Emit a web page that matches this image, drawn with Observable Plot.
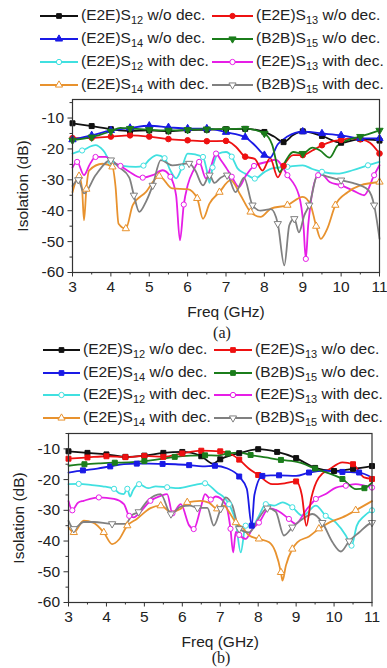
<!DOCTYPE html>
<html><head><meta charset="utf-8">
<script src="https://cdn.jsdelivr.net/npm/d3@7"></script>
<script src="https://cdn.jsdelivr.net/npm/@observablehq/plot@0.6"></script>
<style>
body{margin:0;background:#fff;font-family:"Liberation Sans",Arial,sans-serif;}
#wrap{position:relative;width:387px;height:668px;overflow:hidden;background:#fff;}
.panel{position:absolute;left:0;}
.legtxt{position:absolute;font-size:15.5px;color:#222;white-space:nowrap;line-height:18px;height:18px;}
.legtxt sub{font-size:11px;vertical-align:-4px;line-height:0;}
.legsym{position:absolute;}
.cap{position:absolute;font-family:"Liberation Serif","Times New Roman",serif;font-size:16px;color:#222;transform:translateX(-50%);line-height:18px;}
</style></head><body><div id="wrap"></div>
<script>
// ---------- axis ticks ----------
const xTicks = [3, 4, 5, 6, 7, 8, 9, 10, 11];
const xMinor = [3.5, 4.5, 5.5, 6.5, 7.5, 8.5, 9.5, 10.5];
const yTicks = [-60, -50, -40, -30, -20, -10];
const yMinor = [-55, -45, -35, -25, -15, -5];

// ---------- legend labels ----------
const labelPre = ["(E2E)S", "(E2E)S", "(E2E)S", "(B2B)S", "(E2E)S", "(E2E)S", "(E2E)S", "(B2B)S"];
const labelSub = ["12", "13", "14", "15", "12", "13", "14", "15"];
const labelPost = [" w/o dec.", " w/o dec.", " w/o dec.", " w/o dec.", " with dec.", " with dec.", " with dec.", " with dec."];
const captions = ["(a)", "(b)"];

// ---------- panel (a) data: [freq GHz, isolation dB] ----------
const a_S12_wo = [[3.0,-11.7],[3.5,-12.6],[4.0,-13.6],[4.5,-14.2],[5.0,-14.0],[5.5,-14.3],[6.0,-13.9],[6.5,-13.8],[7.0,-13.6],[7.5,-13.5],[8.0,-14.5],[8.25,-16],[8.5,-17.8],[8.75,-15.5],[9.0,-14.3],[9.5,-15.8],[10.0,-18.0],[10.5,-16.8],[11.0,-17.3]];
const a_S13_wo = [[3.0,-16.5],[3.5,-16.4],[4.0,-16.0],[4.5,-15.6],[5.0,-16.0],[5.5,-16.8],[6.0,-17.2],[6.5,-17.5],[7.0,-17.4],[7.25,-19.2],[7.5,-22.5],[7.75,-23.2],[7.95,-27],[8.15,-23],[8.35,-29.2],[8.5,-25.5],[8.75,-22],[9.0,-22],[9.25,-20.5],[9.5,-18.8],[9.75,-17.6],[10.0,-17.1],[10.25,-16.6],[10.5,-16.9],[10.75,-18],[11.0,-21.5]];
const a_S14_wo = [[3.0,-17.0],[3.5,-15.6],[4.0,-14.0],[4.5,-13.2],[5.0,-12.5],[5.5,-13.0],[6.0,-13.4],[6.5,-13.4],[7.0,-14.6],[7.5,-16.2],[7.75,-18.8],[8.0,-22],[8.15,-22.8],[8.35,-18.5],[8.6,-16],[9.0,-14.4],[9.5,-15.0],[10.0,-15.6],[10.5,-16.6],[11.0,-16.6]];
const a_S15_wo = [[3.0,-17.2],[3.5,-16.2],[4.0,-14.3],[4.25,-13.2],[4.5,-13.4],[5.0,-13.8],[5.5,-14.0],[6.0,-13.8],[6.5,-13.6],[7.0,-13.6],[7.5,-13.4],[8.0,-15.0],[8.2,-18.5],[8.4,-27.5],[8.55,-24],[8.75,-21],[9.0,-21.5],[9.25,-19.6],[9.45,-20.5],[9.7,-22.8],[9.9,-19],[10.2,-17],[10.5,-16.0],[11.0,-14.0]];
const a_S12_with = [[3.0,-21.5],[3.25,-20.5],[3.6,-18.8],[3.8,-20.5],[4.0,-24.2],[4.3,-25.5],[4.65,-25.8],[4.85,-25.4],[5.0,-23.5],[5.2,-22],[5.4,-23],[5.55,-27],[5.7,-29.5],[5.85,-26],[6.0,-21.5],[6.2,-21.8],[6.4,-22.6],[6.5,-27],[6.57,-31],[6.65,-26],[6.8,-21.5],[7.0,-21.0],[7.15,-22.5],[7.3,-26.3],[7.5,-28],[7.75,-29.6],[8.0,-27.5],[8.2,-26.3],[8.6,-25.8],[9.0,-25.3],[9.25,-26.5],[9.5,-27.4],[9.9,-28],[10.3,-26.9],[10.7,-25.3],[11.0,-24.2]];
const a_S13_with = [[3.0,-26],[3.12,-24.2],[3.3,-28.5],[3.45,-25],[3.6,-22.6],[3.87,-22.6],[4.04,-24.2],[4.25,-25.5],[4.48,-27.4],[4.7,-29],[4.83,-29.3],[5.09,-28.5],[5.35,-26.9],[5.55,-29],[5.7,-35],[5.8,-49.6],[5.9,-38],[6.0,-31.8],[6.15,-27],[6.3,-24.2],[6.48,-29.6],[6.6,-26],[6.74,-21.5],[6.86,-23.5],[7.0,-26],[7.15,-29],[7.34,-32.3],[7.5,-29],[7.73,-25.5],[8.07,-24.2],[8.3,-23.5],[8.6,-28.5],[8.9,-35],[9.02,-45],[9.08,-55.6],[9.14,-45],[9.2,-38.2],[9.4,-28.5],[9.5,-28.3],[9.7,-30.7],[10.0,-31.8],[10.3,-33.4],[10.6,-35],[10.86,-28.5],[11.0,-25.3]];
const a_S14_with = [[3.0,-34],[3.17,-28.8],[3.25,-33],[3.3,-43.1],[3.36,-33],[3.43,-27],[3.78,-24.8],[4.04,-25.8],[4.12,-32],[4.2,-44.2],[4.39,-45.8],[4.57,-38.2],[4.91,-34],[5.26,-28.8],[5.6,-32.8],[6.0,-33],[6.25,-36],[6.4,-42.6],[6.57,-37.7],[6.83,-34],[7.12,-30.1],[7.38,-35],[7.64,-40.4],[7.9,-42],[8.17,-39.3],[8.6,-38.2],[9.0,-35.5],[9.2,-38],[9.35,-45],[9.47,-49.1],[9.64,-45.8],[9.85,-38.2],[10.17,-34],[10.5,-31.8],[11.0,-30.7]];
const a_S15_with = [[3.0,-32],[3.15,-30],[3.3,-34.4],[3.6,-28.5],[4.0,-23.6],[4.2,-25.8],[4.48,-29.3],[4.6,-35],[4.74,-40.4],[4.91,-37.2],[5.09,-31.8],[5.3,-23.6],[5.6,-25.3],[6.04,-24.7],[6.2,-27],[6.4,-31.8],[6.57,-28.5],[6.7,-31],[6.86,-29.3],[7.03,-28.5],[7.25,-34],[7.47,-29.3],[7.69,-38.2],[7.9,-40],[8.17,-39.5],[8.35,-44.2],[8.52,-57.7],[8.65,-44.7],[8.78,-42.6],[8.9,-47],[9.04,-41.5],[9.17,-38.2],[9.4,-28],[9.64,-29],[10.0,-30.1],[10.3,-31],[10.7,-33.2],[10.86,-38.2],[11.0,-49.1]];

// ---------- panel (b) data ----------
const b_S12_wo = [[3.0,-10.8],[3.5,-11.3],[4.0,-11.8],[4.5,-12.6],[5.0,-12.2],[5.5,-11.3],[6.0,-11.0],[6.5,-12.4],[6.8,-14.8],[7.0,-13.4],[7.25,-12.2],[7.5,-11.4],[8.0,-10.1],[8.5,-11.0],[9.0,-13.0],[9.5,-16.2],[10.0,-17.2],[10.5,-16.5],[11.0,-15.6]];
const b_S13_wo = [[3.0,-13.2],[3.5,-12.8],[4.0,-12.4],[4.5,-12.7],[5.0,-12.3],[5.5,-12.6],[6.0,-11.5],[6.5,-10.6],[7.0,-10.8],[7.25,-11.5],[7.5,-13.5],[7.75,-16.4],[8.0,-18.5],[8.37,-21.5],[8.7,-21.2],[9.0,-20.6],[9.15,-25],[9.27,-35],[9.4,-26],[9.6,-19.3],[9.9,-16.5],[10.22,-14.4],[10.5,-15],[10.79,-19.3],[11.0,-19.8]];
const b_S14_wo = [[3.0,-17.7],[3.38,-17],[3.76,-16.4],[4.1,-15.7],[4.46,-15],[4.8,-14.8],[5.14,-14.8],[5.48,-14.9],[5.82,-15],[6.18,-15.3],[6.53,-15.7],[6.86,-15.5],[7.19,-16.4],[7.5,-19],[7.7,-23],[7.83,-35],[7.9,-25],[8.11,-18.8],[8.33,-18.6],[8.55,-18.6],[9.0,-18.8],[9.34,-17.7],[9.78,-17.1],[10.22,-17.5],[10.44,-17.6],[10.66,-17.7],[11.0,-19.3]];
const b_S15_wo = [[3.0,-15.5],[3.42,-15],[3.84,-14.7],[4.22,-14.5],[4.6,-14.4],[5.0,-14],[5.43,-13.3],[5.8,-12.6],[6.22,-12.2],[6.6,-12.1],[6.92,-12.2],[7.2,-11.5],[7.5,-11.2],[7.8,-12],[8.2,-12.8],[8.6,-13.6],[9.08,-14.4],[9.5,-16.4],[9.85,-17.9],[10.22,-19.8],[10.58,-23.1],[10.8,-22.8],[11.0,-21]];
const b_S12_with = [[3.0,-21.5],[3.27,-21.4],[3.62,-21.8],[3.9,-22.2],[4.2,-23],[4.35,-24.5],[4.46,-24.7],[4.55,-23],[4.62,-25.5],[4.7,-23.5],[4.86,-21.5],[5.1,-22.8],[5.3,-22.2],[5.6,-22.5],[5.9,-22.8],[6.3,-21.8],[6.6,-21.2],[6.92,-24.2],[7.1,-25.8],[7.23,-28],[7.41,-34],[7.54,-43.7],[7.67,-35],[7.85,-35],[8.02,-31.8],[8.2,-28],[8.42,-28.5],[8.64,-27.4],[8.9,-29],[9.17,-31.8],[9.52,-28.5],[9.78,-31.8],[10.05,-34],[10.31,-38.2],[10.46,-41.5],[10.6,-35],[10.8,-31.8],[11.0,-30]];
const b_S13_with = [[3.0,-27],[3.1,-30],[3.25,-27.5],[3.4,-26.9],[3.8,-25.8],[4.2,-26.3],[4.46,-28],[4.6,-31.8],[4.72,-32.3],[4.9,-30.4],[5.16,-26.9],[5.43,-25.3],[5.6,-24.7],[5.74,-31],[5.96,-28],[6.18,-34.9],[6.3,-36.1],[6.48,-29.5],[6.6,-24.7],[6.75,-26.5],[6.88,-25.5],[7.14,-28],[7.27,-36],[7.34,-43.7],[7.41,-37],[7.5,-38],[7.67,-39.3],[7.85,-36],[8.02,-34],[8.29,-29.3],[8.55,-30.4],[8.81,-32.8],[8.99,-34.4],[9.26,-30],[9.52,-26.3],[9.78,-24.7],[10.05,-22.6],[10.31,-22],[10.57,-21.5],[10.8,-22],[11.0,-22.6]];
const b_S14_with = [[3.0,-35.5],[3.14,-37.2],[3.4,-33.4],[3.65,-34],[3.93,-37.2],[4.15,-41],[4.33,-39.5],[4.55,-35],[4.8,-32.8],[5.16,-29.3],[5.43,-28.5],[5.7,-30.5],[5.96,-29.5],[6.13,-27.4],[6.48,-26.9],[6.7,-27.5],[6.92,-29.5],[7.1,-28.5],[7.23,-30.5],[7.41,-34],[7.58,-35.5],[7.76,-38.2],[8.02,-39.3],[8.29,-40.4],[8.46,-43.7],[8.6,-50.2],[8.64,-52.9],[8.73,-48],[8.9,-42.6],[9.03,-40.4],[9.34,-38.5],[9.6,-36],[9.87,-34],[10.22,-32.3],[10.57,-30],[11.0,-27]];
const b_S15_with = [[3.0,-33.4],[3.14,-36],[3.4,-33.8],[3.67,-33.8],[4.15,-34.4],[4.5,-34.4],[4.68,-31.5],[4.85,-30.5],[5.08,-26.9],[5.43,-24.7],[5.7,-31.2],[5.96,-28.8],[6.2,-28.5],[6.4,-29.2],[6.66,-29.2],[6.83,-35],[7.01,-29.5],[7.14,-25.8],[7.32,-28.5],[7.5,-36],[7.76,-37.2],[8.02,-32.5],[8.24,-29.3],[8.46,-30.4],[8.68,-38.2],[8.9,-35.5],[9.17,-32.8],[9.43,-31.2],[9.69,-34],[9.96,-40.4],[10.18,-43.4],[10.4,-40],[10.66,-37.2],[10.92,-34.5],[11.0,-34]];

// ---------- styles ----------
const colors = ["#111111", "#ee1111", "#1a1ae6", "#1b7d1b", "#40e0e0", "#e61ee6", "#e8922e", "#808080"];
const triDown = {draw(ctx, size) {
  const y = Math.sqrt(size / (Math.sqrt(3) * 3));
  ctx.moveTo(0, y * 2); ctx.lineTo(-Math.sqrt(3) * y, -y); ctx.lineTo(Math.sqrt(3) * y, -y); ctx.closePath();
}};
const symA = ["square", "circle", "triangle", triDown, "circle", "circle", "triangle", triDown];
const symB = ["square", "square", "square", "square", "circle", "circle", "triangle", triDown];
const isOpen = [false, false, false, false, true, true, true, true];

const panels = [
  {top: 0, height: 345, mt: 99, mb: 73, ml: 72, mr: 8, yDomain: [-60, -4],
   data: [a_S12_wo, a_S13_wo, a_S14_wo, a_S15_wo, a_S12_with, a_S13_with, a_S14_with, a_S15_with],
   mk: ["half", "half", "half", "half", 3, 3, 3, 3], sym: symA,
   legRows: [16, 39, 62, 85], legCols: [{l0: 40, l1: 78, t: 81}, {l0: 212, l1: 253, t: 256}],
   cap: {x: 222, y: 333}},
  {top: 345, height: 323, mt: 88, mb: 66, ml: 68, mr: 15.5, yDomain: [-60, -5],
   data: [b_S12_wo, b_S13_wo, b_S14_wo, b_S15_wo, b_S12_with, b_S13_with, b_S14_with, b_S15_with],
   mk: ["half", "half", 2, 2, 3, 3, 3, 3], sym: symB,
   legRows: [350, 372.5, 395, 417.5], legCols: [{l0: 43, l1: 80, t: 83}, {l0: 214, l1: 252, t: 255}],
   cap: {x: 221, y: 658}}
];

const wrap = document.getElementById("wrap");
const fmt = d => String(d);

panels.forEach((P, pi) => {
  const marks = [];
  const order = [4, 5, 6, 7, 0, 1, 2, 3];
  order.forEach(k => {
    marks.push(Plot.line(P.data[k], {x: d => d[0], y: d => d[1], stroke: colors[k], strokeWidth: 1.8, curve: "monotone-x"}));
  });
  order.forEach(k => {
    const m = P.mk[k];
    const pts = P.data[k].filter((d, i) => m === "half" ? Number.isInteger(d[0] * 2) : (i % m === 1));
    const r = P.sym[k] === "triangle" || P.sym[k] === triDown ? 2.7 : (isOpen[k] ? 2.6 : 2.8);
    marks.push(Plot.dot(pts, {x: d => d[0], y: d => d[1], symbol: P.sym[k], r,
      fill: isOpen[k] ? "white" : colors[k], stroke: colors[k], strokeWidth: 1}));
  });
  marks.push(Plot.frame({stroke: "#333", strokeWidth: 1.2}));
  marks.push(Plot.axisX({ticks: xMinor, tickSize: 2.5, tickFormat: () => "", label: null, stroke: "#333"}));
  marks.push(Plot.axisY({ticks: yMinor.filter(v => v >= P.yDomain[0] && v <= P.yDomain[1]), tickSize: 2.5, tickFormat: () => "", label: null, stroke: "#333"}));
  marks.push(Plot.axisX({ticks: xTicks, tickSize: 4.5, tickPadding: 4, tickFormat: fmt, stroke: "#333",
    label: "Freq (GHz)", labelAnchor: "center", labelArrow: "none", labelOffset: 44}));
  marks.push(Plot.axisY({ticks: yTicks, tickSize: 4.5, tickPadding: 4, tickFormat: fmt, stroke: "#333",
    label: "Isolation (dB)", labelAnchor: "center", labelArrow: "none", labelOffset: 56}));

  const svg = Plot.plot({
    width: 387, height: P.height,
    marginTop: P.mt, marginBottom: P.mb, marginLeft: P.ml, marginRight: P.mr,
    x: {domain: [3, 11]}, y: {domain: P.yDomain},
    style: {fontFamily: "'Liberation Sans', Arial, sans-serif", fontSize: "15.5px", color: "#222", background: "transparent"},
    marks
  });
  svg.classList.add("panel");
  svg.style.top = P.top + "px";
  wrap.appendChild(svg);

  // legend (HTML overlay)
  for (let k = 0; k < 8; k++) {
    const row = Math.floor(k / 2), col = k % 2;
    const C = P.legCols[col], cy = P.legRows[row];
    const s = document.createElementNS("http://www.w3.org/2000/svg", "svg");
    s.setAttribute("class", "legsym");
    s.setAttribute("width", C.l1 - C.l0 + 2); s.setAttribute("height", 12);
    s.style.left = (C.l0 - 1) + "px"; s.style.top = (cy - 6) + "px";
    const mid = (C.l1 - C.l0) / 2 + 1;
    const sym = typeof P.sym[k] === "string" ? {square: d3.symbolSquare, circle: d3.symbolCircle, triangle: d3.symbolTriangle}[P.sym[k]] : P.sym[k];
    const path = d3.symbol(sym, 22)();
    s.innerHTML = `<line x1="1" x2="${C.l1 - C.l0 + 1}" y1="6" y2="6" stroke="${colors[k]}" stroke-width="1.8"/>` +
      `<path d="${path}" transform="translate(${mid},6)" fill="${isOpen[k] ? "white" : colors[k]}" stroke="${colors[k]}" stroke-width="1"/>`;
    wrap.appendChild(s);
    const t = document.createElement("div");
    t.className = "legtxt";
    t.style.left = C.t + "px"; t.style.top = (cy - 10) + "px";
    t.innerHTML = `${labelPre[k]}<sub>${labelSub[k]}</sub>${labelPost[k]}`;
    wrap.appendChild(t);
  }
  const c = document.createElement("div");
  c.className = "cap";
  c.style.left = P.cap.x + "px"; c.style.top = (P.cap.y - 9) + "px";
  c.textContent = captions[pi];
  wrap.appendChild(c);
});
</script></body></html>
